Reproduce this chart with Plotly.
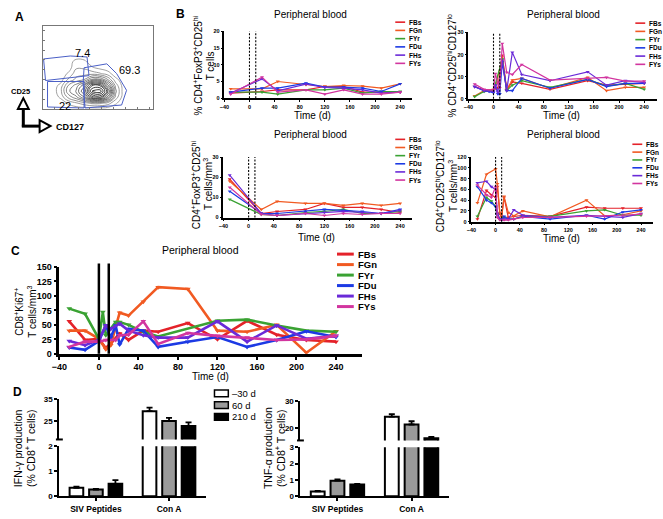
import plotly.graph_objects as go

W, H = 663, 519
FONT = "Liberation Sans, Arial, Helvetica, sans-serif"

animals = ["FBs", "FGn", "FYr", "FDu", "FHs", "FYs"]
colors = ["#e4222a", "#f15a22", "#3aa233", "#1c3ae4", "#6a2ad8", "#d2359f"]

flow_x = [10, 18, 26, 34, 42, 50, 58, 66, 74, 82]
flow_y = [0, 6, 12, 18, 24, 30, 36, 42, 48, 54]
flow_z = [
    [0, 0, 0, 0, 0, 0, 0, 0, 0, 0],
    [0, 0, 0.5, 1, 1.5, 2, 2, 1.5, 0.5, 0],
    [0, 0.5, 2, 3, 4.5, 7, 7.5, 5, 1.5, 0],
    [0, 0.8, 3, 4, 6, 9.5, 10, 7, 2, 0],
    [0, 0.6, 2.5, 3.5, 5, 8, 8, 5, 1.5, 0],
    [0, 0, 1.2, 2, 2.5, 4, 4, 2.5, 0.6, 0],
    [0, 0, 0.5, 1.5, 1.5, 1.5, 1.2, 0.7, 0, 0],
    [0, 0, 0, 1, 1, 0.5, 0.2, 0, 0, 0],
    [0, 0, 0, 0.7, 0.6, 0, 0, 0, 0, 0],
    [0, 0, 0, 0, 0, 0, 0, 0, 0, 0],
]
gate_hi_x = [1, 28, 45, 47, 3, 1]
gate_hi_y = [51, 54, 53, 34, 29, 51]
gate_pos_x = [42, 65, 75, 85, 80, 43, 41, 42]
gate_pos_y = [42, 46, 36, 19, 4, 1, 26, 42]
gate_lo_x = [5, 42, 42, 5, 5]
gate_lo_y = [28, 28, 1, 2, 28]
gate_pct = ["7.4", "69.3", "22"]
gate_lab_x = [40, 88, 23]
gate_lab_y = [57, 40, 3]

# B: % and counts of Treg
b1_days = [-30, 20, 45, 90, 120, 150, 180, 210, 240]
b1_pct = {
    "FBs": [1.5, 2.0, 2.5, 2.5, 3.5, 3.5, 1.8, 1.8, 1.8],
    "FGn": [2.8, 2.8, 5.0, 4.0, 3.5, 3.8, 3.6, 3.0, 4.3],
    "FYr": [1.8, 1.8, 1.2, 2.5, 2.5, 3.0, 1.5, 2.0, 2.0],
    "FDu": [1.8, 3.0, 3.0, 4.5, 3.3, 3.3, 3.0, 2.0, 4.3],
    "FHs": [1.5, 5.8, 2.2, 4.2, 3.2, 3.0, 2.5, 1.5, 1.8],
    "FYs": [1.2, 6.3, 1.8, 2.5, 1.2, 2.5, 1.2, 1.2, 1.8],
}
b2_days = [-30, -15, -7, 0, 3, 7, 10, 14, 21, 30, 45, 90, 150, 180, 210, 240]
b2_pct = {
    "FBs": [5.5, 4.0, None, 4.0, None, 5.0, None, 19.6, 4.0, 7.7, 7.0, 4.3, 8.2, 6.2, 6.5, 7.0],
    "FGn": [1.3, 3.7, None, 4.3, 5.0, None, None, 18.9, 4.3, 8.5, 9.2, 4.8, 9.7, 3.7, 5.2, 5.2],
    "FYr": [1.0, 3.3, None, 3.7, None, None, None, 18.0, 3.7, 6.2, 8.2, 5.2, 8.8, 5.8, 7.0, 4.3],
    "FDu": [5.5, 3.7, 3.3, 2.8, 6.2, 2.2, 2.2, 16.6, 3.7, 3.7, 9.2, 4.8, 8.8, 5.5, 7.0, 7.0],
    "FHs": [5.5, 3.7, None, 3.3, 6.0, 3.0, None, 17.4, 3.7, 21.0, 11.0, 8.2, 12.2, 6.2, 8.2, 7.3],
    "FYs": [6.7, 4.3, None, 4.0, 11.4, 7.0, 5.0, 25.0, 12.0, 11.0, 15.5, 8.5, 9.2, 9.7, 8.0, 8.0],
}
b3_days = [-30, 20, 45, 90, 120, 150, 180, 210, 240]
b3_count = {
    "FBs": [19, 2, 3, 4, 7, 5, 5, 4, 2.5],
    "FGn": [18, 4, 8, 7, 7, 6, 7, 6, 7],
    "FYr": [9, 1.5, 1, 2.5, 3, 4, 2, 2, 3],
    "FDu": [13, 2, 2, 3, 4, 3.5, 3, 2, 4],
    "FHs": [21, 2, 1, 2, 2.5, 3, 2.5, 2, 3.5],
    "FYs": [15, 1.5, 1, 2, 1, 2, 1.5, 2, 2],
}
b4_days = [-30, -15, -7, 0, 3, 7, 10, 14, 21, 30, 45, 90, 150, 180, 210, 240]
b4_count = {
    "FBs": [5, 58, 50, 45, 65, 15, 10, 45, 8, 10, 12, 10, 27, 25, 25, 25],
    "FGn": [35, 88, None, 98, 70, 17, 8, 47, 17, 11, 20, 9, 40, 11, 13, 20],
    "FYr": [10, 45, 38, 28, 15, 5, None, 8, 5, 5, 10, 10, 20, 22, 12, 12],
    "FDu": [65, 40, 35, 28, 12, 5, 3, 10, 5, 5, 10, 5, 12, 5, 18, 22],
    "FHs": [72, 75, 65, 60, 15, 5, None, 5, 5, 22, 12, 8, 12, 10, 8, 15],
    "FYs": [68, 50, 45, 65, 8, 3, None, 3, 3, 5, 8, 8, 10, 10, 12, 14],
}

# C: CD8+Ki67+ counts
c_days = [-30, -14, 0, 4, 7, 12, 17, 21, 30, 45, 60, 90, 120, 150, 180, 210, 240]
c_count = {
    "FBs": [56, 24, 26, None, 10, 18, None, 35, 24, 40, 38, 53, 25, 57, 33, 24, 21],
    "FGn": [40, 40, 26, None, 8, 15, None, 71, 66, 90, 115, 112, 40, 38, 50, 2, 39],
    "FYr": [78, 69, 26, 72, 32, None, 55, 55, 50, 38, 30, None, 57, 59, 49, 40, 38],
    "FDu": [11, 7, 22, None, 49, 28, 49, 16, 43, 40, 12, 21, 29, 12, 24, 39, 29],
    "FHs": [22, 15, 24, None, 49, 43, None, 52, 40, 32, 28, 28, 56, 21, 49, 26, 31],
    "FYs": [12, 21, 21, None, 24, None, 24, 32, 33, 56, 17, 36, 31, 28, 24, 25, 31],
}

# D: cytokine production
d_groups = ["SIV Peptides", "Con A"]
d_times = ["–30 d", "60 d", "210 d"]
d_fills = ["white", "#9a9a9a", "black"]
ifn_mean = {"–30 d": [0.34, 29.4], "60 d": [0.27, 24.9], "210 d": [0.5, 22.6]}
ifn_sem = {"–30 d": [0.05, 1.6], "60 d": [0.03, 1.5], "210 d": [0.15, 1.7]}
tnf_mean = {"–30 d": [0.3, 24.3], "60 d": [0.96, 21.4], "210 d": [0.72, 16.3]}
tnf_sem = {"–30 d": [0.03, 0.9], "60 d": [0.07, 1.2], "210 d": [0.04, 0.5]}


def fx(p):
    return p / W


def fy(p):
    return 1 - p / H


shapes, notes = [], []


def text(x, y, s, size=10, angle=0, bold=False, anchor="center"):
    notes.append(dict(x=fx(x), y=fy(y), xref="paper", yref="paper", text=s,
                      showarrow=False, textangle=angle, xanchor=anchor, yanchor="middle",
                      font=dict(family=FONT, size=size, color="black",
                                weight="bold" if bold else "normal")))


def line(x0, y0, x1, y1, color="black", width=1, dash=None):
    shapes.append(dict(type="line", xref="paper", yref="paper", x0=fx(x0), y0=fy(y0),
                       x1=fx(x1), y1=fy(y1), line=dict(color=color, width=width, dash=dash)))


def axis(rng, lw=1.5, fs=5.5, **kw):
    d = dict(range=rng, showline=True, linecolor="black", linewidth=lw, ticks="outside",
             ticklen=2, tickwidth=1.2, tickcolor="black", showgrid=False, zeroline=False,
             tickfont=dict(family=FONT, size=fs, weight="bold", color="black"))
    d.update(kw)
    return d


def xax(px, rng, **kw):
    d = axis(rng, **kw)
    d["domain"] = [fx(px[0]), fx(px[1])]
    return d


def yax(py, rng, **kw):
    d = axis(rng, **kw)
    d["domain"] = [fy(py[0]), fy(py[1])]
    return d


def legend(x0, y0, dy, length, size, lw):
    for i, a in enumerate(animals):
        y = y0 + i * dy
        line(x0, y, x0 + length, y, colors[i], lw)
        text(x0 + length + 2, y, a, size=size, bold=True, anchor="left")


fig = go.Figure()

# ---- A
fig.add_trace(go.Contour(x=flow_x, y=flow_y, z=flow_z, xaxis="x", yaxis="y",
                         contours=dict(coloring="lines", start=0.4, end=10, size=0.7),
                         line=dict(width=0.8, smoothing=1.3), showscale=False,
                         colorscale=[[0, "#8a8a8a"], [1, "#000000"]], hoverinfo="skip"))
for gx, gy in [(gate_hi_x, gate_hi_y), (gate_pos_x, gate_pos_y), (gate_lo_x, gate_lo_y)]:
    fig.add_trace(go.Scatter(x=gx, y=gy, mode="lines", line=dict(color="#4a5fc6", width=1),
                             xaxis="x", yaxis="y", showlegend=False))
for lab, lx, ly in zip(gate_pct, gate_lab_x, gate_lab_y):
    notes.append(dict(x=lx, y=ly, xref="x", yref="y", text=lab, showarrow=False,
                      font=dict(family=FONT, size=11, color="black")))

# ---- B and C line panels
panels = [
    ("2", b1_days, b1_pct, 1.2, 3.5),
    ("3", b2_days, b2_pct, 1.2, 3.5),
    ("4", b3_days, b3_count, 1.2, 3.5),
    ("5", b4_days, b4_count, 1.2, 3.5),
    ("6", c_days, c_count, 2.6, 5),
]
for n, days, vals, lw, ms in panels:
    for i, a in enumerate(animals):
        fig.add_trace(go.Scatter(x=days, y=vals[a], mode="lines+markers", connectgaps=True,
                                 line=dict(color=colors[i], width=lw),
                                 marker=dict(symbol="triangle-down", size=ms, color=colors[i]),
                                 xaxis="x" + n, yaxis="y" + n, showlegend=False, name=a))
    for d in (0, 10):
        shapes.append(dict(type="line", xref="x" + n, yref="y" + n + " domain", x0=d, x1=d,
                           y0=0, y1=1.04 if n == "6" else 1,
                           line=dict(color="black", width=2.5 if n == "6" else 1.1,
                                     dash=None if n == "6" else "2px,1.5px")))

# ---- D bars with broken y axes
for i, t in enumerate(d_times):
    for xa, ys, mean, sem in [("x7", ("y7", "y8"), ifn_mean, ifn_sem),
                              ("x9", ("y9", "y10"), tnf_mean, tnf_sem)]:
        for ya in ys:
            fig.add_trace(go.Bar(x=d_groups, y=mean[t], xaxis=xa, yaxis=ya, offsetgroup=str(i),
                                 marker=dict(color=d_fills[i], line=dict(color="black", width=2)),
                                 error_y=dict(type="data", array=sem[t], arrayminus=[0, 0],
                                              symmetric=False, color="black", thickness=1.8,
                                              width=3),
                                 showlegend=False, name=t))

day_ticks = [-40, 0, 40, 80, 120, 160, 200, 240]
layout_axes = dict(
    xaxis=xax((35, 147), [0, 112], lw=1, linecolor="#777", mirror=True, ticks="inside",
              ticklen=2, tickcolor="#777", showticklabels=False, dtick=12, anchor="y"),
    yaxis=yax((106, 21), [0, 85], lw=1, linecolor="#777", mirror=True, ticks="inside",
              ticklen=2, tickcolor="#777", showticklabels=False, dtick=10, anchor="x"),
    xaxis2=xax((219, 409), [-40, 258.9], tickvals=day_ticks, anchor="y2"),
    yaxis2=yax((95, 27), [0, 20], tickvals=[0, 5, 10, 15, 20], anchor="x2"),
    xaxis3=xax((466, 657), [-40, 260.5], tickvals=day_ticks, anchor="y3"),
    yaxis3=yax((95.7, 28), [0, 30], tickvals=[0, 10, 20, 30], anchor="x3"),
    xaxis4=xax((218, 409), [-40, 258.9], tickvals=day_ticks, anchor="y4"),
    yaxis4=yax((216.7, 155), [0, 30], tickvals=[0, 10, 20, 30], anchor="x4"),
    xaxis5=xax((469, 653), [-40, 260], tickvals=day_ticks, anchor="y5"),
    yaxis5=yax((221, 155), [0, 120], tickvals=[0, 20, 40, 60, 80, 100, 120], anchor="x5"),
    xaxis6=xax((52, 358), [-40, 266], lw=2.5, fs=9, ticklen=3, tickwidth=2,
               tickvals=day_ticks, anchor="y6"),
    yaxis6=yax((355.7, 267), [0, 150], lw=2.5, fs=9, ticklen=3, tickwidth=2,
               tickvals=[0, 25, 50, 75, 100, 125, 150], anchor="x6"),
    xaxis7=xax((52, 200), [-0.5, 1.5], lw=2, fs=8.5, ticklen=3, tickwidth=2,
               type="category", anchor="y7"),
    yaxis7=yax((501, 450), [0, 2], lw=2, fs=8, ticklen=3, tickwidth=2,
               tickvals=[0, 1, 2], anchor="x7"),
    yaxis8=yax((443, 401.7), [16.5, 35], lw=2, fs=8, ticklen=3, tickwidth=2,
               tickvals=[25, 35], anchor="x7"),
    xaxis9=xax((296, 446), [-0.5, 1.5], lw=2, fs=8.5, ticklen=3, tickwidth=2,
               type="category", anchor="y9"),
    yaxis9=yax((501, 451), [0, 3], lw=2, fs=8, ticklen=3, tickwidth=2,
               tickvals=[0, 1, 2, 3], anchor="x9"),
    yaxis10=yax((444, 404), [15.5, 30], lw=2, fs=8, ticklen=3, tickwidth=2,
                tickvals=[20, 30], anchor="x9"),
)

# axis break caps
line(48.5, 443, 55.5, 443, width=2)
line(292.5, 444, 299.5, 444, width=2)

# ---- texts
text(12, 12, "A", 12, bold=True)
text(175, 9, "B", 12, bold=True)
text(8, 251, "C", 12, bold=True)
text(10, 395, "D", 12, bold=True)

# A arrows
line(15.5, 106, 15.5, 124, width=3)
line(14, 123.5, 33, 123.5, width=3)
shapes.append(dict(type="path", xref="paper", yref="paper",
                   path="M %f,%f L %f,%f L %f,%f Z" % (fx(10), fy(106), fx(21), fy(106),
                                                      fx(15.5), fy(95)),
                   fillcolor="white", line=dict(color="black", width=2)))
shapes.append(dict(type="path", xref="paper", yref="paper",
                   path="M %f,%f L %f,%f L %f,%f Z" % (fx(32), fy(117.5), fx(32), fy(129.5),
                                                      fx(43), fy(123.5)),
                   fillcolor="white", line=dict(color="black", width=2)))
text(13, 88, "CD25", 7.5, bold=True)
text(47, 124, "CD127", 9, bold=True, anchor="left")

# B titles
for cx, cy in [(306, 10), (562, 10), (306, 132), (562, 132)]:
    text(cx, cy, "Peripheral blood", 10)
for cx, cy in [(308, 113), (560, 113), (312, 237), (560, 238)]:
    text(cx, cy, "Time (d)", 10)
text(192, 62, "% CD4<sup>+</sup>FoxP3<sup>+</sup>CD25<sup>hi</sup>", 10, angle=-90)
text(205, 62, "T cells", 10, angle=-90)
text(449, 62, "% CD4<sup>+</sup>CD25<sup>hi</sup>CD127<sup>lo</sup>", 10, angle=-90)
text(191, 183, "CD4<sup>+</sup>FoxP3<sup>+</sup>CD25<sup>hi</sup>", 10, angle=-90)
text(203, 183, "T cells/mm<sup>3</sup>", 10, angle=-90)
text(438, 185, "CD4<sup>+</sup>CD25<sup>hi</sup>CD127<sup>lo</sup>", 10, angle=-90)
text(451, 185, "T cells/mm<sup>3</sup>", 10, angle=-90)

legend(392, 17.5, 8.4, 10, 6.5, 1.6)
legend(635, 18.5, 8.4, 10, 6.5, 1.6)
legend(392, 137, 8.3, 10, 6.5, 1.6)
legend(632, 142, 8.0, 10, 6.5, 1.6)

# C texts
text(195, 250, "Peripheral blood", 10.5)
text(205, 379, "Time (d)", 10)
text(11, 313, "CD8<sup>+</sup>Ki67<sup>+</sup>", 10, angle=-90)
text(24, 313, "T cells/mm<sup>3</sup>", 10, angle=-90)
legend(333, 254, 10.7, 17, 9.5, 3)

# D texts
text(10, 452, "IFN-γ production", 10.5, angle=-90)
text(22, 452, "(% CD8<sup>+</sup> T cells)", 10.5, angle=-90)
text(263, 452, "TNF-α production", 10.5, angle=-90)
text(275, 452, "(% CD8<sup>+</sup> T cells)", 10.5, angle=-90)
for i, t in enumerate(d_times):
    yc = 396 + i * 12
    shapes.append(dict(type="rect", xref="paper", yref="paper", x0=fx(209), x1=fx(223),
                       y0=fy(yc - 3.5), y1=fy(yc + 3.5), fillcolor=d_fills[i],
                       line=dict(color="black", width=1.5)))
    text(225, yc, t, 9.5, anchor="left")

fig.update_layout(width=W, height=H, margin=dict(l=0, r=0, t=0, b=0),
                  paper_bgcolor="white", plot_bgcolor="white", showlegend=False,
                  barmode="group", bargap=0.2, bargroupgap=0.3,
                  font=dict(family=FONT, color="black"),
                  shapes=shapes, annotations=notes, **layout_axes)

# page body has a default 8px margin; drop it so the figure sits at the window corner
fig.write_html("out.html", config={"displayModeBar": False},
               post_script="document.body.style.margin='0';")
